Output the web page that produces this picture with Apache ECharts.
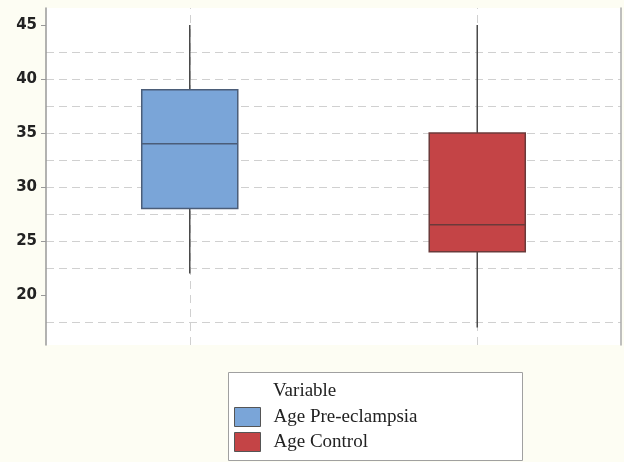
<!DOCTYPE html>
<html>
<head>
<meta charset="utf-8">
<script src="https://cdn.jsdelivr.net/npm/echarts@6/dist/echarts.min.js"></script>
<style>
html,body{margin:0;padding:0;background:#fdfdf3;}
#chart{width:624px;height:462px;}
</style>
</head>
<body>
<div id="chart"></div>
<script>
// Data
const categories = ['Age Pre-eclampsia', 'Age Control'];
// [min, Q1, median, Q3, max]
const boxValues = [
  [22, 28, 34, 39, 45],
  [17, 24, 26.5, 35, 45]
];
const tickLabels = [20, 25, 30, 35, 40, 45];
const legendTitle = 'Variable';
const yMin = 15.37, yMax = 46.57;

const fills = ['#7aa5d8', '#c44446'];
const borders = ['#4b5d78', '#6b3a3a'];

const chart = echarts.init(document.getElementById('chart'));
const serif = '"Liberation Serif", "Times New Roman", serif';

const customData = boxValues.map((v, i) => [i].concat(v));

const option = {
  backgroundColor: '#fdfdf3',
  animation: false,
  title: {
    text: legendTitle,
    left: 273, top: 382, padding: 0,
    textStyle: { fontFamily: serif, fontSize: 19, fontWeight: 'normal', color: '#222' }
  },
  legend: {
    data: categories,
    orient: 'vertical',
    left: 234, top: 407, padding: 0,
    itemWidth: 26, itemHeight: 19, itemGap: 5,
    icon: 'rect',
    itemStyle: { borderColor: '#555', borderWidth: 1 },
    textStyle: { fontFamily: serif, fontSize: 19, color: '#222', padding: [0, 0, 0, 8] }
  },
  graphic: [{
    type: 'rect', left: 228, top: 372, z: -1,
    shape: { width: 294, height: 88 },
    style: { fill: '#ffffff', stroke: '#a0a0a0', lineWidth: 1 }
  }],
  grid: {
    left: 46, right: 3, top: 8, bottom: 117,
    show: true, backgroundColor: '#ffffff', borderWidth: 0
  },
  xAxis: {
    type: 'category', data: categories, boundaryGap: true,
    axisLine: { show: false }, axisTick: { show: false },
    axisLabel: { show: false }, splitLine: { show: false }
  },
  yAxis: [{
    type: 'value', min: yMin, max: yMax,
    axisLine: { show: true, lineStyle: { color: '#999', width: 1.5 } },
    axisTick: { show: true, length: 5, customValues: tickLabels, lineStyle: { color: '#999' } },
    axisLabel: {
      customValues: tickLabels,
      margin: 9,
      fontFamily: '"DejaVu Sans", sans-serif', fontSize: 15, fontWeight: 'bold', color: '#222',
      formatter: v => (Math.abs(v % 5) < 1e-6 ? String(v) : '')
    },
    splitLine: { show: true, showMinLine: false, showMaxLine: false,
      lineStyle: { color: '#d0d0d0', type: [8, 5], width: 1 } },
    minorTick: { show: false, splitNumber: 2 },
    minorSplitLine: { show: true, lineStyle: { color: '#d0d0d0', type: [8, 5], width: 1 } }
  }, {
    type: 'value', min: yMin, max: yMax, position: 'right',
    axisLine: { show: true, lineStyle: { color: '#aaa', width: 1.5 } },
    axisTick: { show: false }, axisLabel: { show: false }, splitLine: { show: false }
  }],
  series: [
    {
      type: 'custom', name: 'boxes', z: 3,
      data: customData,
      encode: { x: 0, y: [1, 2, 3, 4, 5] },
      renderItem: function (params, api) {
        const idx = api.value(0);
        const mn = api.coord([idx, api.value(1)]);
        const q1 = api.coord([idx, api.value(2)]);
        const md = api.coord([idx, api.value(3)]);
        const q3 = api.coord([idx, api.value(4)]);
        const mx = api.coord([idx, api.value(5)]);
        const bw = api.size([1, 0])[0] * 0.334;
        const cx = mn[0];
        const i = params.dataIndex;
        return {
          type: 'group',
          children: [
            { type: 'line', shape: { x1: cx, y1: mx[1], x2: cx, y2: mn[1] },
              style: { stroke: '#4a4a4a', lineWidth: 1.5 } },
            { type: 'rect', shape: { x: cx - bw / 2, y: q3[1], width: bw, height: q1[1] - q3[1] },
              style: { fill: fills[i], stroke: borders[i], lineWidth: 1.5 } },
            { type: 'line', shape: { x1: cx - bw / 2, y1: md[1], x2: cx + bw / 2, y2: md[1] },
              style: { stroke: borders[i], lineWidth: 1.5 } }
          ]
        };
      },
      markLine: {
        z: 1, silent: true, symbol: 'none', label: { show: false },
        lineStyle: { color: '#d0d0d0', type: [8, 6], width: 1 },
        data: categories.map(c => ({ xAxis: c }))
      }
    },
    { type: 'bar', name: categories[0], data: [],
      itemStyle: { color: fills[0], borderColor: '#555', borderWidth: 1 } },
    { type: 'bar', name: categories[1], data: [],
      itemStyle: { color: fills[1], borderColor: '#555', borderWidth: 1 } }
  ]
};
chart.setOption(option);
</script>
</body>
</html>
